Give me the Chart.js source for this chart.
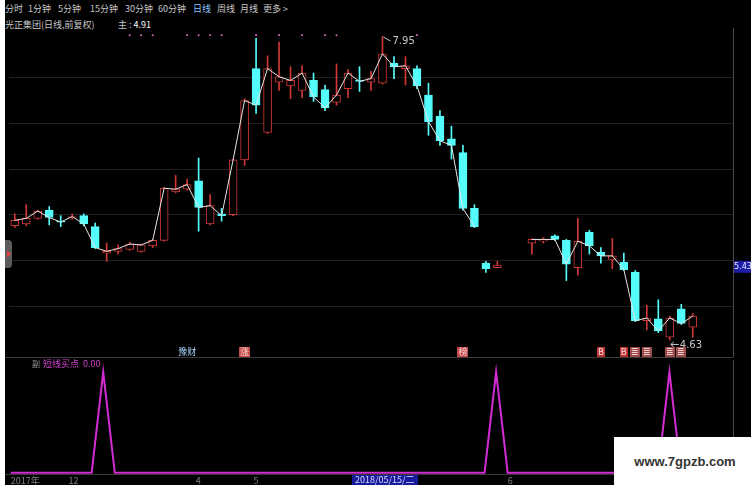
<!DOCTYPE html>
<html>
<head>
<meta charset="utf-8">
<script src="https://cdn.jsdelivr.net/npm/chart.js@4.4.1/dist/chart.umd.min.js"></script>
<style>
body { margin:0; width:756px; height:487px; background:#fff; overflow:hidden; position:relative;
       font-family:"Noto Sans CJK SC","DejaVu Sans",sans-serif; }
#panel { position:absolute; left:5px; top:0; width:746px; height:485px; background:#000; }
.t { position:absolute; font-size:9px; line-height:10px; color:#c8c8c8; white-space:pre; }
#mainChart { position:absolute; left:5px; top:28px; }
#subChart { position:absolute; left:5px; top:360px; }
#sep { position:absolute; left:5px; top:357px; width:728px; height:1px; background:#3c3c3c; }
#tab { position:absolute; left:5px; top:240px; width:7px; height:28px; background:#5c5c5c; border-radius:0 4px 4px 0; }
#tab:after { content:""; position:absolute; left:2px; top:10px; border-left:4px solid #e04040;
             border-top:4px solid transparent; border-bottom:4px solid transparent; }
#cursorDate { position:absolute; left:352px; top:475px; height:10px; padding:0 3px; background:#1a1a9c;
              color:#dcdcff; font-size:9px; line-height:10px; }
#mark { position:absolute; left:614px; top:437px; width:142px; height:50px; background:#fff;
        color:#333; font:bold 13px "Liberation Sans",Arial,sans-serif; text-align:center; line-height:50px; }
</style>
</head>
<body>
<div id="panel"></div>

<div class="t" style="left:5px;top:4px">分时</div>
<div class="t" style="left:28px;top:4px">1分钟</div>
<div class="t" style="left:58px;top:4px">5分钟</div>
<div class="t" style="left:90px;top:4px">15分钟</div>
<div class="t" style="left:125px;top:4px">30分钟</div>
<div class="t" style="left:158px;top:4px">60分钟</div>
<div class="t" style="left:193px;top:4px;color:#8cc4ff">日线</div>
<div class="t" style="left:217px;top:4px">周线</div>
<div class="t" style="left:240px;top:4px">月线</div>
<div class="t" style="left:263px;top:4px">更多 &gt;</div>
<div class="t" style="left:5px;top:20px">光正集团(日线,前复权)</div>
<div class="t" style="left:118px;top:20px">主 : <span style="color:#fff">4.91</span></div>

<canvas id="mainChart" width="746" height="329"></canvas>
<div id="sep"></div>
<div id="tab"></div>
<div class="t" style="left:32px;top:359px;color:#9a9a9a;font-size:8px">副</div>
<div class="t" style="left:43px;top:359px;color:#d040d0">短线买点 &nbsp;0.00</div>
<canvas id="subChart" width="746" height="125"></canvas>
<div id="cursorDate">2018/05/15/二</div>
<div id="mark">www.7gpzb.com</div>

<script>
// 60 trading days, two suspended (null)
const opens = [5.88,5.90,5.96,6.05,5.93,5.97,5.99,5.87,5.58,5.60,
               5.62,5.60,5.66,5.72,6.25,6.28,6.37,5.90,6.01,6.00,
               6.60,7.60,6.90,7.45,7.41,7.36,7.47,7.37,7.23,7.38,
               7.47,7.45,7.44,7.66,7.60,7.60,7.31,7.08,6.83,6.68,
               6.07,5.47,5.42,null,null,5.69,5.71,5.77,5.72,5.42,
               5.81,5.59,5.51,5.48,5.37,4.84,4.86,4.66,4.97,4.77];
const closes = [5.94,5.96,6.04,5.97,5.92,5.98,5.90,5.64,5.60,5.63,
                5.68,5.67,5.72,6.29,6.28,6.33,6.08,6.10,5.99,6.60,
                7.25,7.20,7.60,7.51,7.47,7.55,7.29,7.17,7.31,7.55,
                7.46,7.49,7.76,7.62,7.63,7.41,7.02,6.81,6.76,6.07,
                5.87,5.41,5.45,null,null,5.73,5.73,5.73,5.46,5.71,
                5.66,5.55,5.55,5.40,4.84,4.87,4.73,4.87,4.81,4.89];
const highs = [6.01,6.11,6.05,6.09,5.99,6.01,6.01,5.91,5.69,5.67,
               5.70,5.68,5.73,6.30,6.43,6.39,6.62,6.22,6.07,6.61,
               7.27,7.93,7.74,7.89,7.62,7.63,7.55,7.42,7.65,7.59,
               7.62,7.57,7.95,7.73,7.73,7.63,7.44,7.14,6.97,6.76,
               6.11,5.49,5.49,null,null,5.74,5.75,5.78,5.73,5.96,
               5.83,5.64,5.74,5.58,5.39,5.01,5.07,4.89,5.02,4.92];
const lows = [5.86,5.88,5.95,5.89,5.87,5.95,5.88,5.63,5.49,5.57,
              5.61,5.59,5.64,5.71,6.24,6.27,5.82,5.89,5.93,5.99,
              6.54,7.11,6.89,7.36,7.27,7.28,7.24,7.14,7.20,7.28,
              7.35,7.36,7.43,7.49,7.42,7.38,6.87,6.76,6.61,6.05,
              5.86,5.37,5.42,null,null,5.57,5.69,5.72,5.28,5.34,
              5.57,5.47,5.41,5.39,4.83,4.74,4.71,4.63,4.80,4.66];

// close line is broken around the suspension
const lineCloses = closes.map((c, i) => (i >= 41 && i <= 44) ? null : c);

// 短线买点 signal
const signal = [0,0,0,0,0,0,0,0,1,0, 0,0,0,0,0,0,0,0,0,0,
                0,0,0,0,0,0,0,0,0,0, 0,0,0,0,0,0,0,0,0,0,
                0,0,1,0,0,0,0,0,0,0, 0,0,0,0,0,0,0,1,0,0];

// pink dots on top row
const dotIdx = [10,11,12,15,16,17,18,21,23,25,27,28,35];
const dotLevel = 7.965;

// event tags under the candles
const tagIdx  = [15, 20, 39, 51, 53, 54, 55, 57, 58];
const tagText = ['豫财', '涨', '榜', 'B', 'B', '≣', '≣', '≣', '≣'];
const tagBg   = ['', '#c04a4a', '#c04a4a', '#b83030', '#b83030', '#9c4a4a', '#9c4a4a', '#9c4a4a', '#9c4a4a'];
const tagFg   = ['#a8d4ff', '#ffd0d0', '#ffd0d0', '#ffe0e0', '#ffe0e0', '#f0d0d0', '#f0d0d0', '#f0d0d0', '#f0d0d0'];

// date axis
const tickIdx = [0, 5, 16, 21, 43];
const tickText = ['2017年', '12', '4', '5', '6'];

const cursorPrice = 5.43;
const slots = 63;
const labels = Array.from({ length: slots }, (_, i) => i);

const UP = '#d03838';
const DOWN = '#54fcfc';
const isUp = i => closes[i] >= opens[i];
const colorOf = i => isUp(i) ? UP : DOWN;

const bodies = opens.map((o, i) => o === null ? null : [o, closes[i]]);
const upperWicks = opens.map((o, i) => o === null ? null : [Math.max(o, closes[i]), highs[i]]);
const lowerWicks = opens.map((o, i) => o === null ? null : [lows[i], Math.min(o, closes[i])]);
const dots = labels.map(i => dotIdx.includes(i) ? dotLevel : null);
const candleColors = opens.map((o, i) => o === null ? 'transparent' : colorOf(i));

const overlay = {
    id: 'overlay',
    afterDatasetsDraw(chart) {
        const { ctx, chartArea, scales: { x, y } } = chart;
        ctx.save();
        ctx.font = '10px "DejaVu Sans", sans-serif';
        ctx.textBaseline = 'middle';

        // highest high / lowest low
        let hi = 0, lo = 0;
        highs.forEach((h, i) => { if (h !== null && h > highs[hi]) hi = i; });
        lows.forEach((l, i) => { if (l !== null && l < lows[lo]) lo = i; });
        const hx = x.getPixelForValue(hi), hy = y.getPixelForValue(highs[hi]);
        ctx.strokeStyle = '#c8c8c8';
        ctx.lineWidth = 1;
        ctx.beginPath();
        ctx.moveTo(hx + 1, hy + 0.5);
        ctx.lineTo(hx + 8, hy + 4.5);
        ctx.stroke();
        ctx.fillStyle = '#c8c8c8';
        ctx.fillText(highs[hi].toFixed(2), hx + 10, hy + 5);

        const lx = x.getPixelForValue(lo), ly = y.getPixelForValue(lows[lo]) + 4;
        ctx.beginPath();
        ctx.moveTo(lx + 1, ly + 0.5);
        ctx.lineTo(lx + 9, ly + 0.5);
        ctx.moveTo(lx + 1, ly + 0.5);
        ctx.lineTo(lx + 4, ly - 2);
        ctx.moveTo(lx + 1, ly + 0.5);
        ctx.lineTo(lx + 4, ly + 3);
        ctx.stroke();
        ctx.fillText(lows[lo].toFixed(2), lx + 10, ly + 1);

        // tags
        ctx.font = '9px "Noto Sans CJK SC", sans-serif';
        ctx.textAlign = 'center';
        tagIdx.forEach((idx, k) => {
            const px = x.getPixelForValue(idx);
            const py = chartArea.bottom + 2;
            const w = ctx.measureText(tagText[k]).width + 2;
            if (tagBg[k]) {
                ctx.fillStyle = tagBg[k];
                ctx.fillRect(Math.round(px - w / 2), py - 5, Math.round(w), 10);
            }
            ctx.fillStyle = tagFg[k];
            ctx.fillText(tagText[k], px, py);
        });

        // right axis border + cursor price
        ctx.strokeStyle = '#4a4a4a';
        ctx.beginPath();
        ctx.moveTo(chartArea.right + 0.5, 0);
        ctx.lineTo(chartArea.right + 0.5, chart.height);
        ctx.stroke();
        const cy = y.getPixelForValue(cursorPrice);
        ctx.fillStyle = '#1c1ca4';
        ctx.fillRect(chartArea.right + 1, cy - 6, 18, 12);
        ctx.fillStyle = '#e4e4ff';
        ctx.font = '9px "DejaVu Sans Condensed", "DejaVu Sans", sans-serif';
        ctx.textAlign = 'center';
        ctx.fillText(cursorPrice.toFixed(2), chartArea.right + 10, cy);
        ctx.restore();
    }
};

new Chart(document.getElementById('mainChart'), {
    type: 'bar',
    data: {
        labels: labels,
        datasets: [
            { type: 'line', data: lineCloses, borderColor: '#e8e4e4', borderWidth: 1, pointRadius: 0,
              spanGaps: false, tension: 0, order: 0 },
            { type: 'line', data: dots, showLine: false, pointStyle: 'rect', pointRadius: 1.2,
              pointBackgroundColor: '#e86cc8', pointBorderWidth: 0, order: 0 },
            { data: bodies, backgroundColor: opens.map((o, i) => isUp(i) ? '#000' : DOWN),
              borderColor: candleColors, borderWidth: 1, borderSkipped: false,
              barThickness: 8, grouped: false, order: 1 },
            { data: upperWicks, backgroundColor: candleColors, barThickness: 1, grouped: false, order: 2 },
            { data: lowerWicks, backgroundColor: candleColors, barThickness: 1, grouped: false, order: 2 }
        ]
    },
    options: {
        responsive: false,
        animation: false,
        devicePixelRatio: 1,
        layout: { padding: { left: 0, right: 18, top: 0, bottom: 7 } },
        plugins: { legend: { display: false }, tooltip: { enabled: false } },
        scales: {
            x: { type: 'category', display: false, offset: true },
            y: {
                position: 'right',
                min: 4.52, max: 8.0,
                ticks: { display: false, stepSize: 0.5 },
                grid: {
                    drawTicks: false,
                    color: c => (Math.abs(c.tick.value * 2 - Math.round(c.tick.value * 2)) < 1e-6 && c.tick.value < 8) ? '#1f1f1f' : 'transparent'
                },
                border: { display: false },
                afterFit: s => { s.width = 0; }
            }
        }
    },
    plugins: [overlay]
});

const subBorder = {
    id: 'subBorder',
    afterDraw(chart) {
        const { ctx, chartArea } = chart;
        ctx.save();
        ctx.strokeStyle = '#4a4a4a';
        ctx.beginPath();
        ctx.moveTo(chartArea.right + 0.5, 0);
        ctx.lineTo(chartArea.right + 0.5, chartArea.bottom);
        ctx.stroke();
        ctx.restore();
    }
};

new Chart(document.getElementById('subChart'), {
    type: 'line',
    data: {
        labels: labels,
        datasets: [{ data: signal, borderColor: '#d42cd4', borderWidth: 2, pointRadius: 0, tension: 0 }]
    },
    options: {
        responsive: false,
        animation: false,
        devicePixelRatio: 1,
        layout: { padding: { left: 0, right: 18, top: 0, bottom: 0 } },
        plugins: { legend: { display: false }, tooltip: { enabled: false } },
        scales: {
            x: {
                type: 'category', offset: true,
                grid: { display: false, drawTicks: false },
                border: { display: true, color: '#3a3a3a' },
                ticks: {
                    autoSkip: false, maxRotation: 0, minRotation: 0, align: 'start', padding: 1,
                    color: '#808080', font: { size: 9, family: '"Noto Sans CJK SC", sans-serif' },
                    callback: (v, i) => {
                        const k = tickIdx.indexOf(i);
                        return k >= 0 ? tickText[k] : '';
                    }
                },
                afterFit: s => { s.height = 11; }
            },
            y: { display: false, min: -0.013, max: 1.12 }
        }
    },
    plugins: [subBorder]
});
</script>
</body>
</html>
